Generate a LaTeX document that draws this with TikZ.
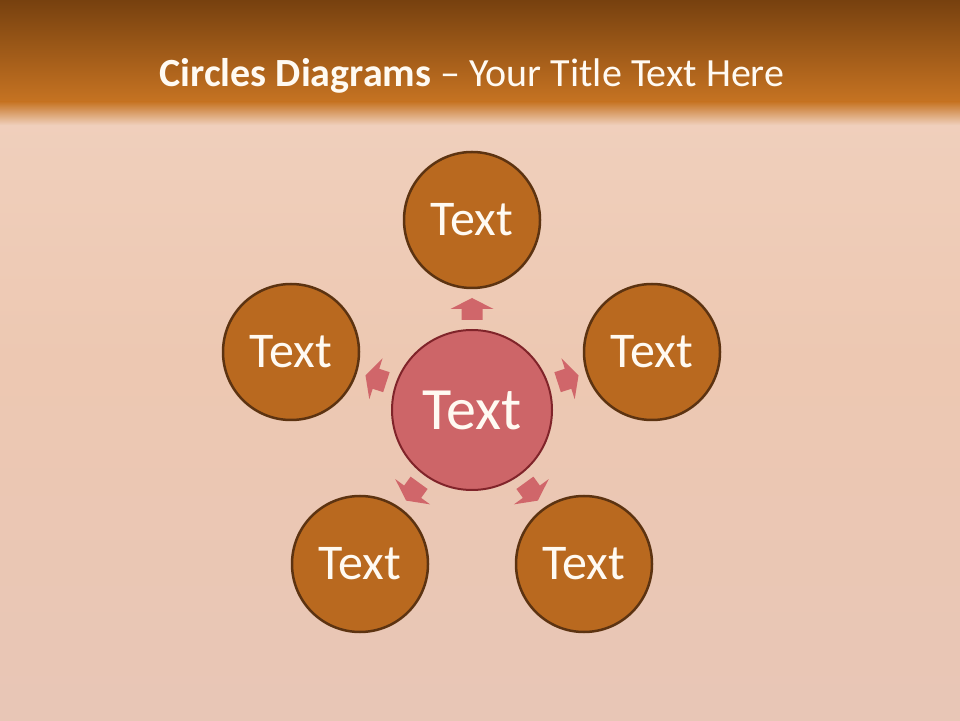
\documentclass[tikz,border=0pt]{standalone}
\usepackage{fontspec}
\setmainfont{Carlito}
\definecolor{bartop}{HTML}{77410F}
\definecolor{barbot}{HTML}{C67322}
\definecolor{bgtop}{HTML}{F1D3C1}
\definecolor{bgmid}{HTML}{EDC8B2}
\definecolor{bgbot}{HTML}{E8C6B6}
\definecolor{outerfill}{HTML}{B9691F}
\definecolor{outerdraw}{HTML}{5C3311}
\definecolor{centerfill}{HTML}{CD6568}
\definecolor{centerdraw}{HTML}{80242A}
\definecolor{arrowfill}{HTML}{D0666A}
\definecolor{txt}{HTML}{FFFAF2}
\tikzset{
  outer/.style={circle, minimum size=136pt, inner sep=0pt, fill=outerfill, draw=outerdraw, line width=2.5pt, text=txt, font=\fontsize{50}{54}\selectfont},
  center/.style={circle, minimum size=160pt, inner sep=0pt, fill=centerfill, draw=centerdraw, line width=2pt, text=txt, font=\fontsize{60}{64}\selectfont},
  blockarrow/.style={fill=arrowfill, draw=none},
  titletext/.style={text=txt, font=\fontsize{40}{44}\selectfont}
}
\begin{document}
\begin{tikzpicture}[x=1pt,y=1pt]
\useasboundingbox (0,0) rectangle (960,720);
% background
\shade[top color=bgtop, bottom color=bgbot, middle color=bgmid] (0,0) rectangle (960,720);
% title bar
\shade[top color=bartop, bottom color=barbot] (0,618) rectangle (960,720);
\shade[top color=barbot, bottom color=bgtop] (0,594) rectangle (960,618.5);
\node[titletext] (title) at (472,644) {\textbf{Circles Diagrams} – Your Title Text Here};
% circles
\node[center] (c) at (472,310) {Text};
\node[outer] (t) at (472,500) {Text};
\node[outer] (r) at (652,368) {Text};
\node[outer] (l) at (291,368) {Text};
\node[outer] (bl) at (360,156) {Text};
\node[outer] (br) at (584,156) {Text};
% arrows
\foreach \a in {90,18,162,-54,-126}{
  \begin{scope}[shift={(c.center)}, rotate=\a]
    \fill[blockarrow] (90,-10.5) -- (101,-10.5) -- (101,-21.5) -- (112,0) -- (101,21.5) -- (101,10.5) -- (90,10.5) -- cycle;
  \end{scope}
}
\end{tikzpicture}
\end{document}
